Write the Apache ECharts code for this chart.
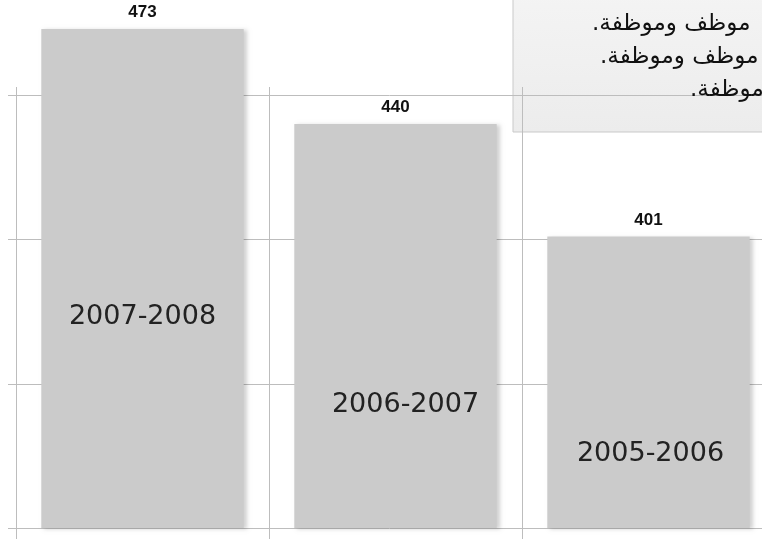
<!DOCTYPE html>
<html>
<head>
<meta charset="utf-8">
<script src="https://cdn.jsdelivr.net/npm/echarts@6/dist/echarts.min.js"></script>
<style>
  html, body { margin: 0; padding: 0; background: #fff; }
  #chart { width: 762px; height: 539px; }
</style>
</head>
<body>
<div id="chart"></div>
<script>
// السنوات وعدد الموظفين
var years = ['2007-2008', '2006-2007', '2005-2006'];
var staff = [473, 440, 401];
var yMin = 300, yMax = 500, yStep = 50;
// ما يظهر من نص الصندوق (مقصوص من اليمين)
var noteLines = ['موظف وموظفة.', 'موظف وموظفة.', 'موظفة.'];

var gridColor = '#bdbdbd';
// موضع اسم السنة داخل كل عمود (بالبكسل من أعلى العمود)
var nameLabelPos = [[0, 288], [10, 281], [2, 217]];

var chart = echarts.init(document.getElementById('chart'));

var option = {
    animation: false,
    grid: [
        { left: 16, top: -49, width: 759, height: 577, outerBoundsMode: 'none', containLabel: false },
        { left: 16, top: 87, width: 759, height: 452, outerBoundsMode: 'none', containLabel: false }
    ],
    xAxis: [{
        type: 'category',
        gridIndex: 0,
        data: years,
        axisLine: { show: false },
        axisTick: { show: false },
        axisLabel: { show: false },
        splitLine: { show: false }
    }, {
        type: 'category',
        gridIndex: 1,
        data: years,
        axisLine: { show: false },
        axisTick: { show: false },
        axisLabel: { show: false },
        splitLine: { show: true, interval: 0, lineStyle: { color: gridColor, width: 1 } }
    }],
    yAxis: [{
        type: 'value',
        gridIndex: 0,
        min: yMin,
        max: yMax,
        interval: yStep,
        axisLine: { show: false },
        axisLabel: { show: false },
        axisTick: { show: true, length: 8, lineStyle: { color: gridColor } },
        splitLine: { show: true, lineStyle: { color: gridColor, width: 1 } }
    }, {
        type: 'value',
        gridIndex: 1,
        show: false
    }],
    series: [{
        type: 'bar',
        xAxisIndex: 0,
        yAxisIndex: 0,
        data: staff,
        barWidth: '80%',
        itemStyle: {
            color: '#cbcbcb',
            shadowColor: 'rgba(0,0,0,0.18)',
            shadowBlur: 4,
            shadowOffsetX: 3,
            shadowOffsetY: 1
        },
        label: {
            show: true,
            position: 'top',
            distance: 8,
            fontFamily: 'Liberation Sans',
            fontWeight: 'bold',
            fontSize: 17,
            color: '#111'
        }
    }, {
        type: 'bar',
        xAxisIndex: 0,
        yAxisIndex: 0,
        barGap: '-100%',
        barWidth: '80%',
        data: staff.map(function (v, i) {
            return {
                value: v,
                label: { position: ['50%', nameLabelPos[i][1]], offset: [nameLabelPos[i][0], 0] }
            };
        }),
        itemStyle: { color: 'rgba(0,0,0,0)' },
        label: {
            show: true,
            formatter: '{b}',
            align: 'center',
            verticalAlign: 'middle',
            fontFamily: 'DejaVu Sans',
            fontSize: 27,
            color: '#222'
        }
    }],
    graphic: [{
        type: 'rect',
        z: -10,
        shape: { x: 513, y: -10, width: 300, height: 142 },
        style: {
            fill: new echarts.graphic.LinearGradient(0, 0, 0, 1, [
                { offset: 0, color: '#f4f4f4' },
                { offset: 1, color: '#ececec' }
            ]),
            stroke: '#c9c9c9',
            lineWidth: 1
        }
    }].concat(noteLines.map(function (t, i) {
        var xs = [592, 600, 690];
        return {
            type: 'text',
            z: 100,
            style: {
                text: '\u202B' + t + '\u202C',
                x: xs[i],
                y: 24 + i * 33,
                font: '23px "DejaVu Sans"',
                fill: '#111',
                textAlign: 'left',
                textVerticalAlign: 'middle'
            }
        };
    }))
};

chart.setOption(option);
</script>
</body>
</html>
